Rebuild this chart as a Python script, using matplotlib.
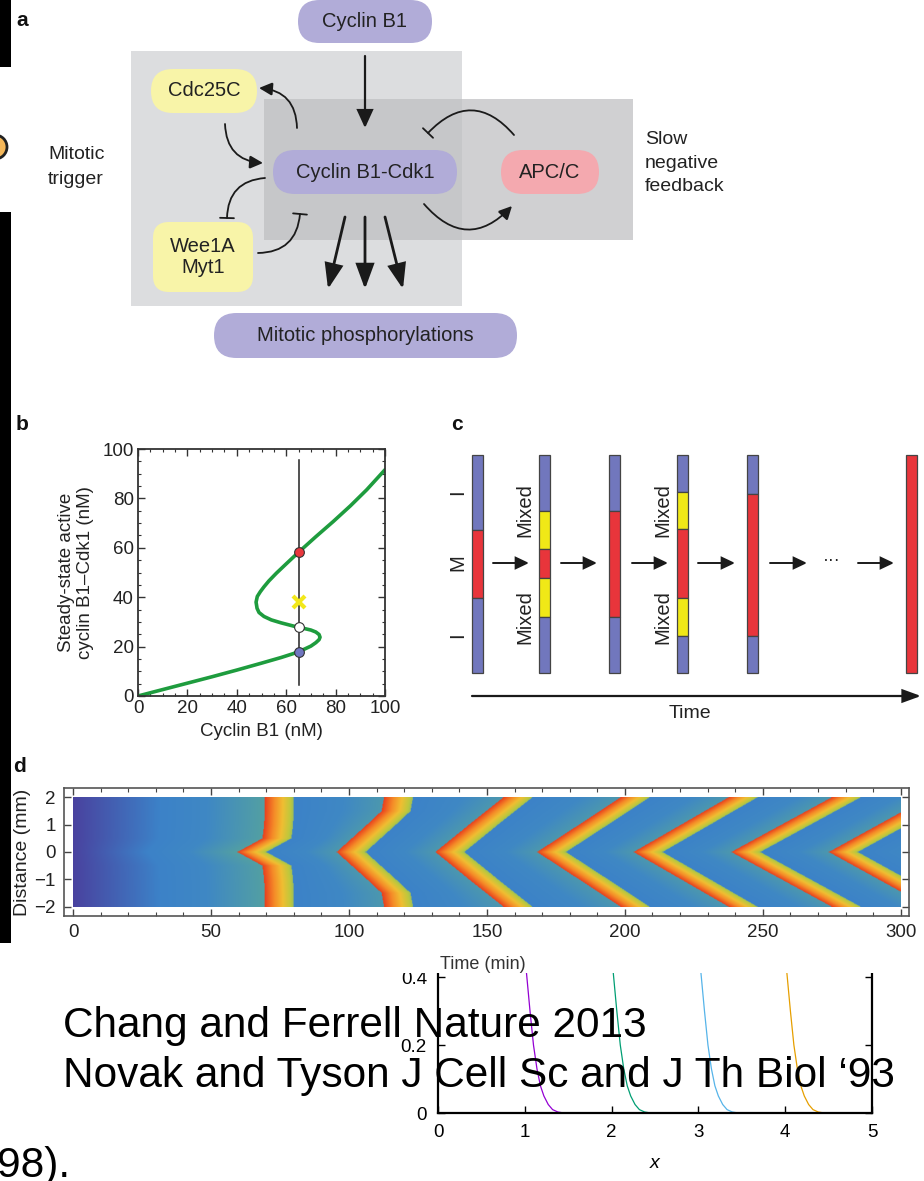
import numpy as np
import matplotlib
matplotlib.use("Agg")
import matplotlib.pyplot as plt
from matplotlib.patches import FancyBboxPatch, FancyArrowPatch, Rectangle, Circle
from matplotlib.colors import LinearSegmentedColormap

plt.rcParams["font.family"] = ["Liberation Sans", "DejaVu Sans"]

W, H = 924, 1181

# ---- panel b: steady-state response (nM) ----
ss_cyclin = [0, 10, 20, 30, 40, 50, 58, 63, 67, 70, 72, 73.3, 73.7, 73.3, 72,
             70, 67, 63, 58, 54, 51, 49, 48.2, 47.8, 48.3, 49.5, 51, 53, 56,
             60, 65, 72, 79, 86, 92.6, 100]
ss_active = [0, 2.6, 5.2, 7.8, 10.5, 13.3, 15.6, 17.2, 18.8, 20.2, 21.6, 22.8,
             23.8, 24.9, 25.9, 26.7, 27.4, 28.3, 29.6, 30.8, 32.2, 33.8, 35.5,
             38.0, 40.3, 42.2, 44.2, 46.6, 49.7, 53.5, 58.2, 64.5, 70.6, 77,
             83.5, 91.6]
total_cyclin = 65
line_span = [4.5, 95.5]
state_y = [58.5, 28, 18]
state_colors = ["#e8383d", "white", "#6f76c0"]
cross_y = 38

# ---- panel c: bar states, (state, end fraction from top) ----
c_states = {"I": "#7177bd", "M": "#e8353b", "X": "#f0e817"}
c_bars = [
    [("I", 0.344), ("M", 0.656), ("I", 1.0)],
    [("I", 0.257), ("X", 0.431), ("M", 0.564), ("X", 0.743), ("I", 1.0)],
    [("I", 0.257), ("M", 0.743), ("I", 1.0)],
    [("I", 0.170), ("X", 0.339), ("M", 0.656), ("X", 0.830), ("I", 1.0)],
    [("I", 0.179), ("M", 0.830), ("I", 1.0)],
    [("M", 1.0)],
]

# ---- panel d: trigger-wave fronts, time (min) at |distance| (mm) ----
front_dist = [0, 0.5, 1.0, 1.5, 2.0]
front_times = [
    [59.5, 68.6, 69.2, 69.4, 69.5],
    [95.5, 101.0, 106.5, 111.8, 112.7],
    [131.3, 137.4, 143.5, 149.7, 156.0],
    [168.2, 175.8, 183.4, 191.0, 198.5],
    [203.2, 211.8, 220.4, 229.0, 237.6],
    [238.6, 247.7, 256.8, 265.9, 275.0],
    [274.0, 283.0, 292.0, 301.0, 310.0],
]
band_min = 10.5

# ---- bottom plot ----
e_y = [0.41, 0.30, 0.20, 0.13, 0.08, 0.05, 0.025, 0.01, 0.003, 0.0]
e_x = [
    [1.02, 1.06, 1.10, 1.14, 1.18, 1.22, 1.27, 1.32, 1.38, 1.45],
    [2.02, 2.06, 2.10, 2.14, 2.18, 2.22, 2.27, 2.32, 2.38, 2.45],
    [3.03, 3.07, 3.11, 3.15, 3.19, 3.23, 3.28, 3.33, 3.39, 3.46],
    [4.02, 4.06, 4.10, 4.14, 4.18, 4.22, 4.27, 4.32, 4.38, 4.45],
]
e_colors = ["#9400d3", "#009e73", "#56b4e9", "#e69f00"]


def px_axes(x0, y0, x1, y1, **kw):
    return fig.add_axes([x0 / W, 1 - y1 / H, (x1 - x0) / W, (y1 - y0) / H], **kw)


fig = plt.figure(figsize=(W / 100, H / 100), dpi=100)

# bottom plot (partly hidden)
ax_e = px_axes(438, 960, 872, 1113)
ax_e.set_zorder(1)
for xs, col in zip(e_x, e_colors):
    ax_e.plot(xs, e_y, color=col, lw=0.9)
ax_e.set_xlim(0, 5)
ax_e.set_ylim(0, 0.45)
ax_e.set_xticks([0, 1, 2, 3, 4, 5])
ax_e.set_yticks([0, 0.2, 0.4])
ax_e.set_yticklabels(["0", "0.2", "0.4"])
ax_e.spines["top"].set_visible(False)
for s in ["left", "bottom", "right"]:
    ax_e.spines[s].set_linewidth(1.6)
ax_e.tick_params(direction="in", length=5, width=1, labelsize=13.5, right=True, pad=8)
ax_e.set_xlabel("x", style="italic", fontsize=14, labelpad=10)

# overlay for diagrams and slide text
ov = fig.add_axes([0, 0, 1, 1])
ov.set_zorder(2)
ov.set_xlim(0, W)
ov.set_ylim(H, 0)
ov.axis("off")
ov.patch.set_visible(False)

# black strips on the left edge
ov.add_patch(Rectangle((0, 0), 11, 67, color="black", lw=0))
ov.add_patch(Rectangle((0, 212), 11, 731, color="black", lw=0))
ov.add_patch(Circle((-5, 147), 12, facecolor="#f5b85a", edgecolor="#222", lw=2))

# cover the top of the bottom plot
ov.add_patch(Rectangle((380, 938), 540, 35, color="white", lw=0))

txt = "#222222"
for lab, x, y in [("a", 22, 20), ("b", 22, 425), ("c", 457, 425), ("d", 20, 767)]:
    ov.text(x, y, lab, fontsize=15, fontweight="bold", ha="center", va="center", color="#111")

# ---- panel a ----
ov.add_patch(Rectangle((131, 51), 331, 255, color="#dcdddf", lw=0))
ov.add_patch(Rectangle((264, 99), 369, 141, color="#bdbec0", alpha=0.71, lw=0))


def pill(x0, y0, x1, y1, col, label, r=None):
    h = y1 - y0
    r = h / 2 if r is None else r
    ov.add_patch(FancyBboxPatch((x0, y0), x1 - x0, h,
                                boxstyle=f"round,pad=0,rounding_size={r}",
                                facecolor=col, edgecolor="none"))
    ov.text((x0 + x1) / 2, (y0 + y1) / 2, label, ha="center", va="center",
            fontsize=14.5, color=txt, linespacing=1.15)


lav, yel, pink = "#b1acd8", "#f8f4a8", "#f4a9af"
pill(298, 0, 432, 43, lav, "Cyclin B1")
pill(151, 69, 257, 113, yel, "Cdc25C")
pill(273, 150, 457, 194, lav, "Cyclin B1-Cdk1")
pill(501, 150, 599, 194, pink, "APC/C")
pill(153, 222, 253, 292, yel, "Wee1A\nMyt1", r=16)
pill(214, 313, 517, 358, lav, "Mitotic phosphorylations")

ov.text(48, 167, "Mitotic\ntrigger", fontsize=14, color=txt, va="center", ha="left", linespacing=1.55)
ov.text(645, 163, "Slow\nnegative\nfeedback", fontsize=14, color=txt, va="center", ha="left", linespacing=1.5)


def arrow(p0, p1, rad=0.0, lw=1.3, hl=8, hw=4, col="#1a1a1a"):
    ov.add_patch(FancyArrowPatch(p0, p1, connectionstyle=f"arc3,rad={rad}",
                                 arrowstyle=f"-|>,head_length={hl},head_width={hw}",
                                 mutation_scale=1, lw=lw, color=col,
                                 shrinkA=0, shrinkB=0, joinstyle="miter"))


def inhib(p0, p1, rad=0.0, lw=1.3, col="#1a1a1a"):
    ov.add_patch(FancyArrowPatch(p0, p1, connectionstyle=f"arc3,rad={rad}",
                                 arrowstyle="|-|,widthA=0,widthB=5",
                                 mutation_scale=1, lw=lw, color=col,
                                 shrinkA=0, shrinkB=0))


arrow((365, 56), (365, 128), lw=1.6, hl=11, hw=5)
arrow((297, 128), (259, 88), rad=0.45)
arrow((225, 124), (263, 163), rad=0.45)
inhib((265, 178), (227, 218), rad=0.45)
inhib((258, 253), (300, 214), rad=0.45)
inhib((514, 135), (428, 133), rad=0.55)
arrow((424, 204), (512, 206), rad=0.55)
for x0, x1 in [(345, 328), (365, 365), (385, 403)]:
    arrow((x0, 217), (x1, 289), lw=2, hl=15, hw=5.5)

# ---- panel c ----
bar_left = [472, 539, 609, 677, 747, 906]
bar_top, bar_len, bar_w = 455, 218, 11
for x0, segs in zip(bar_left, c_bars):
    start = 0.0
    for state, end in segs:
        ov.add_patch(Rectangle((x0, bar_top + start * bar_len), bar_w, (end - start) * bar_len,
                               facecolor=c_states[state], edgecolor="#444", lw=0.9))
        start = end

ymid = 563
for xa, xb in [(493, 529), (561, 597), (632, 668), (698, 735), (770, 807), (858, 894)]:
    arrow((xa, ymid), (xb, ymid), lw=1.4, hl=8, hw=3.8)
ov.text(832, ymid + 2, "···", ha="center", va="baseline", fontsize=13, color=txt)

for y, s in [(492, "I"), (563, "M"), (635, "I")]:
    ov.text(458, y, s, rotation=90, ha="center", va="center", fontsize=14.5, color=txt)
for x in [525, 663]:
    ov.text(x, 510, "Mixed", rotation=90, ha="center", va="center", fontsize=14.5, color=txt)
    ov.text(x, 617, "Mixed", rotation=90, ha="center", va="center", fontsize=14.5, color=txt)

arrow((472, 696), (921, 696), lw=1.6, hl=11, hw=4)
ov.text(690, 713, "Time", ha="center", va="center", fontsize=14, color=txt)

# slide text on top
ov.text(63, 1037, "Chang and Ferrell Nature 2013", fontsize=30.5, color="black", va="baseline", ha="left")
ov.text(63, 1087, "Novak and Tyson J Cell Sc and J Th Biol \u201893", fontsize=30.5,
        color="black", va="baseline", ha="left")
ov.text(-3, 1177, "98).", fontsize=30.5, color="black", va="baseline", ha="left")

# ---- panel b axes ----
ax_b = px_axes(138, 449, 385, 696)
ax_b.set_zorder(3)
ax_b.plot(ss_cyclin, ss_active, color="#1e9c3e", lw=2.6, solid_capstyle="round",
          solid_joinstyle="round")
ax_b.plot([total_cyclin, total_cyclin], line_span, color="#222", lw=1.1)
for y, c in zip(state_y, state_colors):
    ax_b.plot(total_cyclin, y, "o", ms=7, mfc=c, mec="#333", mew=0.8)
ax_b.plot(total_cyclin, cross_y, "x", ms=9, mec="#f2e81a", mew=3)
ax_b.set_xlim(0, 100)
ax_b.set_ylim(0, 100)
ax_b.set_xticks(range(0, 101, 20))
ax_b.set_yticks(range(0, 101, 20))
ax_b.set_xticks(range(0, 101, 5), minor=True)
ax_b.set_yticks(range(0, 101, 5), minor=True)
ax_b.tick_params(which="both", direction="in", top=True, right=True, color="#333",
                 labelsize=13.5, labelcolor=txt, pad=3)
ax_b.tick_params(which="major", length=5, width=1)
ax_b.tick_params(which="minor", length=2.5, width=0.8)
for s in ax_b.spines.values():
    s.set_color("#333")
    s.set_linewidth(1.3)
ax_b.set_xlabel("Cyclin B1 (nM)", fontsize=13.5, color=txt, labelpad=4)
ax_b.set_ylabel("Steady-state active\ncyclin B1\u2013Cdk1 (nM)", fontsize=13.5,
                color=txt, labelpad=6, linespacing=1.2)

# ---- panel d heatmap ----
tt = np.linspace(0, 300, 1201)
dd = np.linspace(-2, 2, 161)
field = np.zeros((dd.size, tt.size))
for i, d in enumerate(dd):
    f = np.array([np.interp(abs(d), front_dist, ft) for ft in front_times])
    k = np.searchsorted(f, tt, side="right") - 1
    prev = f[np.clip(k, 0, None)]
    nxt = np.where(k + 1 < f.size, f[np.clip(k + 1, 0, f.size - 1)], prev + 40)
    s = tt - prev
    before = 0.02 + 0.40 * tt / f[0]
    band = 1.0 - 0.45 * s / band_min
    frac = np.clip((s - band_min) / (nxt - prev - band_min), 0, 1)
    after = 0.2 + 0.18 * frac
    field[i] = np.where(k < 0, before, np.where(s < band_min, band, after))

cmap = LinearSegmentedColormap.from_list("wave", [
    (0.0, "#4b3c9b"), (0.2, "#3c82c8"), (0.3, "#3f88c4"), (0.45, "#58a69a"),
    (0.6, "#bec83c"), (0.72, "#f0be32"), (0.85, "#f58c28"), (1.0, "#e8401e")])

ax_d = px_axes(64, 788, 909, 916)
ax_d.set_zorder(3)
ax_d.imshow(field, extent=[0, 300, -2, 2], origin="lower", aspect="auto",
            cmap=cmap, vmin=0, vmax=1, interpolation="bilinear")
ax_d.set_xlim(-3.3, 303)
ax_d.set_ylim(-2.33, 2.33)
ax_d.set_xticks(range(0, 301, 50))
ax_d.set_xticks(range(0, 301, 10), minor=True)
ax_d.set_yticks([-2, -1, 0, 1, 2])
ax_d.tick_params(which="both", direction="in", top=True, right=True, color="#444",
                 labelsize=13.5, labelcolor=txt, pad=6)
ax_d.tick_params(which="major", length=5, width=1)
ax_d.tick_params(which="minor", length=3, width=0.8)
for s in ax_d.spines.values():
    s.set_color("#555")
    s.set_linewidth(1.2)
ax_d.set_ylabel("Distance (mm)", fontsize=14, color=txt, labelpad=2)
ax_d.set_xlabel("Time (min)", fontsize=13, color="#333")
ax_d.xaxis.set_label_coords(0.496, -0.31)

fig.savefig("out.png", dpi=100)
